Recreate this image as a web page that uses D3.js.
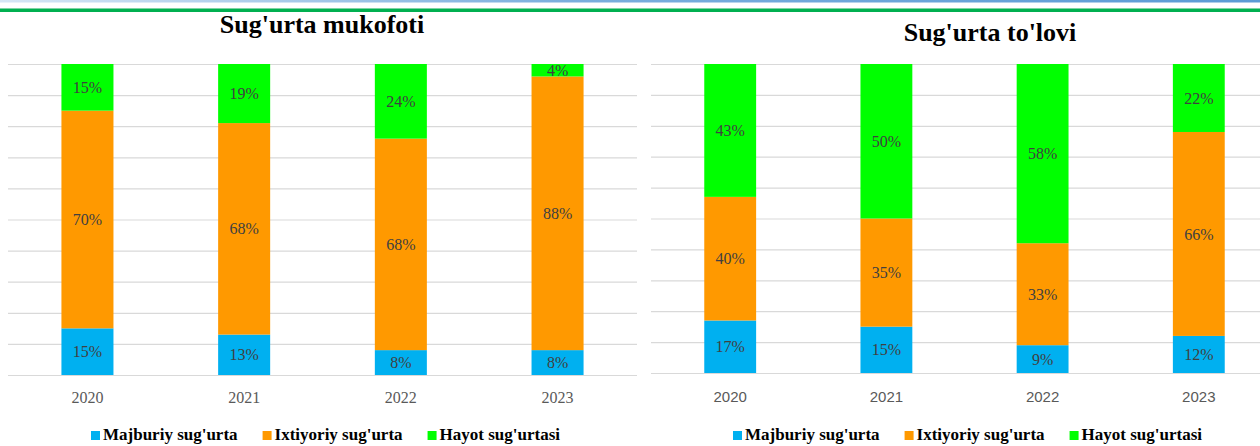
<!DOCTYPE html>
<html>
<head>
<meta charset="utf-8">
<script src="https://cdn.jsdelivr.net/npm/d3@7"></script>
<style>
  body { margin: 0; background: #fff; }
  svg { display: block; }
</style>
</head>
<body>
<div id="graph"></div>
<script>
// Chart data
const years = ["2020", "2021", "2022", "2023"];
const seriesNames = ["Majburiy sug'urta", "Ixtiyoriy sug'urta", "Hayot sug'urtasi"];
const seriesColors = ["#00B0F0", "#FF9900", "#00FF00"];

const mukofotiMajburiy = [15, 13, 8, 8];
const mukofotiIxtiyoriy = [70, 68, 68, 88];
const mukofotiHayot = [15, 19, 24, 4];

const tloviMajburiy = [17, 15, 9, 12];
const tloviIxtiyoriy = [40, 35, 33, 66];
const tloviHayot = [43, 50, 58, 22];

const gridTicks = [0, 10, 20, 30, 40, 50, 60, 70, 80, 90, 100];

const width = 1260;
const height = 446;

const svg = d3.select('#graph').append('svg')
    .attr('width', width)
    .attr('height', height);

// top decoration stripes
const defs = svg.append('defs');
const grad = defs.append('linearGradient').attr('id', 'topBlue');
grad.append('stop').attr('offset', '0%').attr('stop-color', '#d6e6f5');
grad.append('stop').attr('offset', '45%').attr('stop-color', '#7aaedd');
grad.append('stop').attr('offset', '100%').attr('stop-color', '#5b9bd5');
svg.append('rect').attr('x', 0).attr('y', 0).attr('width', width).attr('height', 2.5)
    .attr('fill', 'url(#topBlue)');
svg.append('rect').attr('x', 0).attr('y', 8).attr('width', width).attr('height', 1)
    .attr('fill', '#7fd4a3');
svg.append('rect').attr('x', 0).attr('y', 9).attr('width', width).attr('height', 3)
    .attr('fill', '#00B050');

function buildRows(a, b, c) {
    return years.map((y, i) => ({ year: y, s0: a[i], s1: b[i], s2: c[i] }));
}

function drawPanel(cfg) {
    const g = svg.append('g');

    const x = d3.scaleBand()
        .domain(years)
        .range([cfg.left, cfg.right])
        .paddingInner(0.668)
        .paddingOuter(0.341);

    const y = d3.scaleLinear()
        .domain([0, 100])
        .range([cfg.bottom, cfg.top]);

    // gridlines
    g.append('g')
        .attr('transform', `translate(${cfg.left},0)`)
        .call(d3.axisLeft(y).tickValues(gridTicks).tickSize(-(cfg.right - cfg.left)).tickFormat(''))
        .call(ax => ax.select('.domain').remove())
        .call(ax => ax.selectAll('line').attr('stroke', '#d9d9d9').attr('stroke-width', 1.2));

    // stacked bars
    const stack = d3.stack().keys(['s0', 's1', 's2']);
    const layers = stack(cfg.rows);

    const layer = g.selectAll('.layer')
        .data(layers)
        .enter().append('g')
        .attr('fill', (d, i) => seriesColors[i]);

    layer.selectAll('rect')
        .data(d => d)
        .enter().append('rect')
        .attr('x', d => x(d.data.year))
        .attr('y', d => y(d[1]))
        .attr('width', x.bandwidth())
        .attr('height', d => y(d[0]) - y(d[1]));

    // data labels
    layer.selectAll('text')
        .data(d => d.map(p => ({ p: p, key: d.key })))
        .enter().append('text')
        .attr('x', d => x(d.p.data.year) + x.bandwidth() / 2)
        .attr('y', d => (y(d.p[0]) + y(d.p[1])) / 2)
        .attr('dy', '0.35em')
        .attr('text-anchor', 'middle')
        .attr('fill', '#404040')
        .style('font-family', '"Liberation Serif", "Times New Roman", serif')
        .style('font-size', '16px')
        .text(d => d.p.data[d.key] + '%');

    // x axis labels
    g.append('g')
        .attr('transform', `translate(0,${cfg.bottom})`)
        .call(d3.axisBottom(x).tickSize(0).tickPadding(cfg.labelPad))
        .call(ax => ax.select('.domain').remove())
        .call(ax => ax.selectAll('text')
            .attr('fill', '#595959')
            .style('font-family', cfg.axisFont)
            .style('font-size', cfg.axisSize));

    // title
    g.append('text')
        .attr('x', cfg.titleX)
        .attr('y', cfg.titleY)
        .attr('text-anchor', 'middle')
        .style('font-family', '"Liberation Serif", "Times New Roman", serif')
        .style('font-weight', 'bold')
        .style('font-size', '26px')
        .attr('fill', '#000')
        .text(cfg.title);

    // legend
    const leg = g.append('g');
    const items = leg.selectAll('g')
        .data(seriesNames)
        .enter().append('g');
    items.append('rect')
        .attr('width', 9).attr('height', 9)
        .attr('y', -9)
        .attr('fill', (d, i) => seriesColors[i]);
    items.append('text')
        .attr('x', 12)
        .attr('y', 0)
        .style('font-family', '"Liberation Serif", "Times New Roman", serif')
        .style('font-weight', 'bold')
        .style('font-size', '17px')
        .attr('fill', '#000')
        .text(d => d);
    let cx = 0;
    items.each(function () {
        const w = 12 + d3.select(this).select('text').node().getComputedTextLength();
        d3.select(this).attr('transform', `translate(${cx},0)`);
        cx += w + 25;
    });
    const total = cx - 25;
    leg.attr('transform', `translate(${cfg.legendCenter - total / 2},${cfg.legendY})`);
}

drawPanel({
    rows: buildRows(mukofotiMajburiy, mukofotiIxtiyoriy, mukofotiHayot),
    left: 8, right: 637, top: 64, bottom: 375,
    title: "Sug'urta mukofoti", titleX: 322, titleY: 33,
    axisFont: '"Liberation Serif", "Times New Roman", serif', axisSize: '16px', labelPad: 17,
    legendCenter: 325.5, legendY: 440
});

drawPanel({
    rows: buildRows(tloviMajburiy, tloviIxtiyoriy, tloviHayot),
    left: 651, right: 1278, top: 64, bottom: 373,
    title: "Sug'urta to'lovi", titleX: 990, titleY: 41,
    axisFont: '"Liberation Sans", Arial, sans-serif', axisSize: '15px', labelPad: 18,
    legendCenter: 967.5, legendY: 440
});
</script>
</body>
</html>
